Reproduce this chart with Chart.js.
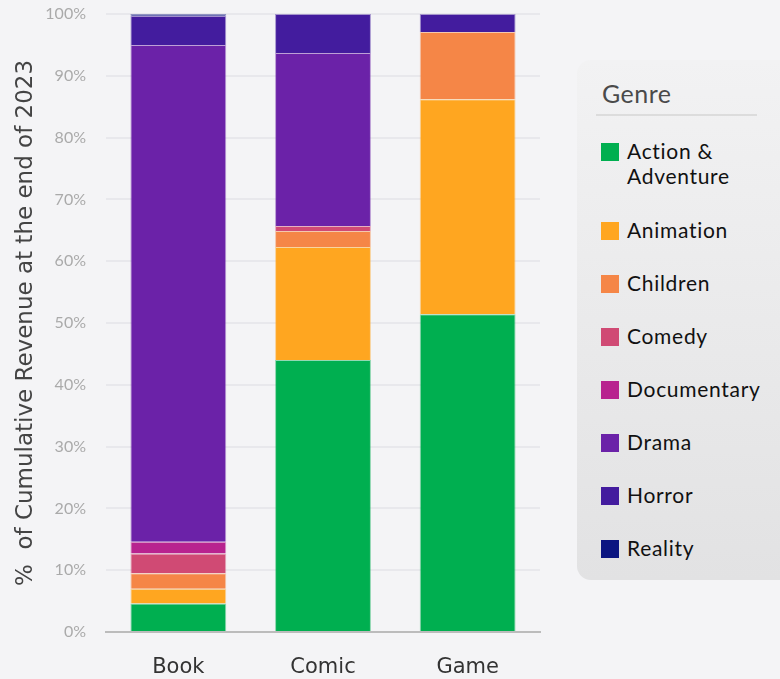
<!DOCTYPE html>
<html>
<head>
<meta charset="utf-8">
<script src="https://cdn.jsdelivr.net/npm/chart.js@4"></script>
<style>
    html, body { margin: 0; padding: 0; background: #f4f4f6; }
    body { width: 780px; height: 679px; position: relative; overflow: hidden; font-family: Lato, "Noto Sans", sans-serif; }
    #wrap { position: absolute; left: 0; top: 0; width: 560px; height: 679px; }
    #legend {
        position: absolute; left: 577px; top: 60px; width: 230px; height: 520px;
        border-radius: 14px; box-sizing: border-box;
        background: linear-gradient(#f2f2f3, #e2e2e3);
    }
    #legend h3 {
        margin: 0; position: absolute; left: 19px; top: 18px; width: 155px;
        font-weight: 400; font-size: 25px; color: #4a4a4a; letter-spacing: 0.5px;
        padding-bottom: 6px; border-bottom: 2px solid #dcdcdc; padding-left: 6px;
    }
    #legend .item { position: absolute; left: 24px; display: flex; align-items: flex-start; }
    #legend .box { width: 18px; height: 18px; margin-top: 5px; margin-right: 8px; flex: none; }
    #legend .lbl { font-size: 21px; line-height: 25px; color: #111; letter-spacing: 0.7px; width: 150px; }
</style>
</head>
<body>
<div id="wrap"><canvas id="grafico"></canvas></div>
<div id="legend"><h3>Genre</h3></div>
<script>
const categorias = ["Book", "Comic", "Game"];
const generos = ["Action & Adventure", "Animation", "Children", "Comedy", "Documentary", "Drama", "Horror", "Reality"];
const cores = ["#00af50", "#ffa620", "#f58647", "#d04a74", "#b8238f", "#6b22a8", "#431c9e", "#0c1581"];

// percentual por genero, na ordem de categorias
const actionAdventure = [4.6, 44.0, 51.4];
const animation = [2.4, 18.3, 34.8];
const children = [2.5, 2.6, 10.9];
const comedy = [3.2, 0.8, 0];
const documentary = [1.9, 0, 0];
const drama = [80.4, 28.0, 0];
const horror = [4.7, 6.3, 2.9];
const reality = [0.3, 0, 0];

const series = [actionAdventure, animation, children, comedy, documentary, drama, horror, reality];
const ticksY = ["0%", "10%", "20%", "30%", "40%", "50%", "60%", "70%", "80%", "90%", "100%"];

const fonte = "Lato, 'Noto Sans', sans-serif";
const fonteLarga = "'DejaVu Sans', sans-serif";

const datasets = generos.map((g, i) => ({
    label: g,
    data: series[i],
    backgroundColor: cores[i],
    borderColor: cores[i] + "66",
    borderWidth: { left: 1, right: 1, top: 1, bottom: 0 },
    categoryPercentage: 0.663,
    barPercentage: 1.0
}));

const ctx = document.getElementById('grafico').getContext('2d');
const chart = new Chart(ctx, {
    type: 'bar',
    data: { labels: categorias, datasets: datasets },
    options: {
        responsive: true,
        maintainAspectRatio: false,
        animation: false,
        layout: { padding: { top: 14, right: 20, bottom: 0, left: 0 } },
        plugins: {
            legend: { display: false },
            tooltip: { enabled: false }
        },
        scales: {
            x: {
                stacked: true,
                grid: { display: false },
                border: { color: '#bcbcbc', width: 2 },
                ticks: { color: '#333', font: { family: fonteLarga, size: 21 }, padding: 15 },
                afterFit: s => { s.height = 47; s.paddingLeft = 0; s.paddingRight = 0; }
            },
            y: {
                stacked: true,
                min: 0,
                max: 100,
                grid: { color: '#e8e8ec', lineWidth: 2, drawTicks: false },
                border: { display: false },
                ticks: {
                    stepSize: 10,
                    color: '#aaaaaa',
                    padding: 20,
                    font: { family: fonte, size: 16 },
                    callback: v => ticksY[Math.round(v / 10)]
                },
                title: {
                    display: true,
                    text: '%  of Cumulative Revenue at the end of 2023',
                    color: '#444',
                    font: { family: fonteLarga, size: 23 },
                    padding: { top: 12, bottom: 0 }
                },
                afterFit: s => { s.width = 106; s.paddingTop = 0; s.paddingBottom = 0; }
            }
        }
    }
});

// legenda em HTML a partir dos datasets
const legenda = document.getElementById('legend');
const posY = [78, 157, 210, 263, 316, 369, 422, 475];
generos.forEach((g, i) => {
    const item = document.createElement('div');
    item.className = 'item';
    item.style.top = posY[i] + 'px';
    const box = document.createElement('div');
    box.className = 'box';
    box.style.background = cores[i];
    const lbl = document.createElement('div');
    lbl.className = 'lbl';
    lbl.textContent = g;
    item.appendChild(box);
    item.appendChild(lbl);
    legenda.appendChild(item);
});
</script>
</body>
</html>
